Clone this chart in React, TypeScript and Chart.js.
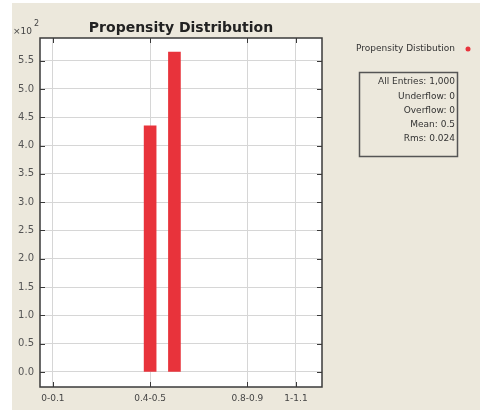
import React, { useEffect, useRef } from "react";
import { Chart, registerables } from "chart.js";

Chart.register(...registerables);

const categories = ["0-0.1", "0.1-0.2", "0.2-0.3", "0.3-0.4", "0.4-0.5", "0.5-0.6", "0.6-0.7", "0.7-0.8", "0.8-0.9", "0.9-1", "1-1.1"];
const counts = [0, 0, 0, 0, 435, 565, 0, 0, 0, 0, 0];
const xTickIndices = [0, 4, 8, 10];
const yTicks = [0, 0.5, 1, 1.5, 2, 2.5, 3, 3.5, 4, 4.5, 5, 5.5];
const titleText = "Propensity Distribution";
const legendText = "Propensity Distibution";
const statsLines = ["All Entries: 1,000", "Underflow: 0", "Overflow: 0", "Mean: 0.5", "Rms: 0.024"];

const RED = "#e8333b";
const FONT = '"DejaVu Sans", sans-serif';

export default function App() {
  const ref = useRef<HTMLCanvasElement>(null);
  useEffect(() => {
    const canvas = ref.current;
    if (!canvas) return;
    const deco = {
      id: "deco",
      beforeDraw(chart: any) {
        const { ctx, chartArea: a } = chart;
        ctx.save();
        ctx.fillStyle = "#ffffff";
        ctx.fillRect(0, 0, chart.width, chart.height);
        ctx.fillStyle = "#ece8dc";
        ctx.fillRect(12, 3, chart.width - 12, chart.height - 3);
        ctx.fillStyle = "#ffffff";
        ctx.fillRect(a.left, a.top, a.right - a.left, a.bottom - a.top);
        ctx.restore();
      },
      afterDraw(chart: any) {
        const { ctx, chartArea: a, scales } = chart;
        ctx.save();
        ctx.strokeStyle = "#3a3a3a";
        ctx.lineWidth = 1.5;
        ctx.strokeRect(a.left, a.top, a.right - a.left, a.bottom - a.top);
        ctx.lineWidth = 1;
        ctx.beginPath();
        for (const v of yTicks) {
          const y = Math.round(scales.y.getPixelForValue(v)) + 0.5;
          ctx.moveTo(a.left, y); ctx.lineTo(a.left + 5, y);
          ctx.moveTo(a.right, y); ctx.lineTo(a.right - 5, y);
        }
        for (const v of xTickIndices) {
          const x = Math.round(scales.x.getPixelForValue(v)) + 0.5;
          ctx.moveTo(x, a.top); ctx.lineTo(x, a.top + 5);
          ctx.moveTo(x, a.bottom); ctx.lineTo(x, a.bottom - 5);
        }
        ctx.stroke();
        ctx.fillStyle = "#222";
        ctx.font = `bold 14px ${FONT}`;
        ctx.textAlign = "center";
        ctx.textBaseline = "middle";
        ctx.fillText(titleText, (a.left + a.right) / 2, 28);
        ctx.fillStyle = "#444";
        ctx.textAlign = "left";
        ctx.textBaseline = "alphabetic";
        ctx.font = `9px ${FONT}`;
        ctx.fillText("\u00d710", 13, 34);
        ctx.font = `8px ${FONT}`;
        ctx.fillText("2", 34, 26);
        ctx.fillStyle = "#333";
        ctx.font = `9px ${FONT}`;
        ctx.textAlign = "right";
        ctx.textBaseline = "middle";
        ctx.fillText(legendText, 455, 49);
        ctx.fillStyle = RED;
        ctx.beginPath();
        ctx.arc(468, 49, 2.5, 0, Math.PI * 2);
        ctx.fill();
        ctx.strokeStyle = "#555";
        ctx.lineWidth = 1.5;
        ctx.strokeRect(359.5, 72.5, 98, 84);
        ctx.fillStyle = "#333";
        const ys = [82, 97, 111, 125, 139];
        statsLines.forEach((t, i) => ctx.fillText(t, 455, ys[i]));
        ctx.restore();
      },
    };
    const chart = new Chart(canvas, {
      type: "bar",
      data: {
        datasets: [
          {
            label: legendText,
            data: categories.map((c, i) => ({ x: i, y: counts[i] > 0 ? counts[i] / 100 : null })),
            backgroundColor: RED,
            borderWidth: 0,
            barThickness: 12,
          },
        ],
      },
      options: {
        animation: false,
        responsive: false,
        layout: { padding: { left: 12, top: 38, right: 158, bottom: 0 } },
        plugins: { legend: { display: false }, title: { display: false }, tooltip: { enabled: false } },
        scales: {
          x: {
            type: "linear",
            offset: false,
            min: -0.53,
            max: 11.07,
            afterBuildTicks: (s: any) => { s.ticks = xTickIndices.map((v) => ({ value: v })); },
            afterFit: (s: any) => { s.height = 23; },
            ticks: {
              callback: (v: any) => categories[v as number] ?? "",
              font: { family: FONT, size: 9 },
              color: "#444",
              padding: 6,
              maxRotation: 0,
              autoSkip: false,
            },
            grid: { color: "#d6d6d6", drawTicks: false, offset: false },
            border: { display: false },
          },
          y: {
            type: "linear",
            min: -0.265,
            max: 5.9,
            afterBuildTicks: (s: any) => { s.ticks = yTicks.map((v) => ({ value: v })); },
            afterFit: (s: any) => { s.width = 28; },
            ticks: {
              callback: (v: any) => Number(v).toFixed(1),
              font: { family: FONT, size: 10 },
              color: "#555",
              padding: 6,
            },
            grid: { color: "#d6d6d6", drawTicks: false },
            border: { display: false },
          },
        },
      },
      plugins: [deco],
    } as any);
    return () => chart.destroy();
  }, []);
  return (
    <div style={{ position: "absolute", left: 0, top: 0 }}>
      <canvas ref={ref} width={480} height={410} />
    </div>
  );
}
